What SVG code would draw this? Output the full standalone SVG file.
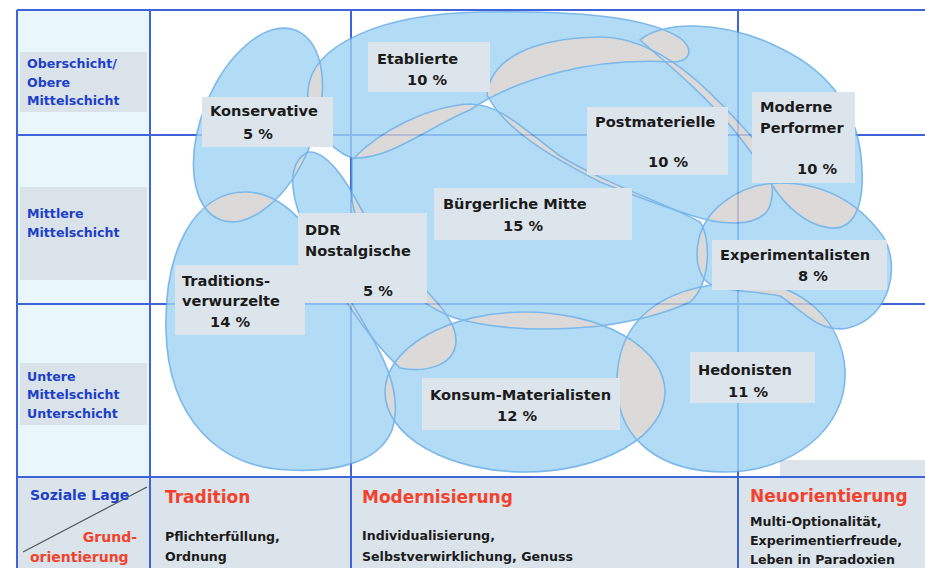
<svg xmlns="http://www.w3.org/2000/svg" width="925" height="568" viewBox="0 0 925 568">
<defs>
<style>
.lbl{font-family:"DejaVu Sans",sans-serif;font-weight:bold;font-size:14.6px;fill:#1b1b1b}
.side{font-family:"DejaVu Sans",sans-serif;font-weight:bold;font-size:12.6px;fill:#1d3fc9}
.desc{font-family:"DejaVu Sans",sans-serif;font-weight:bold;font-size:12.6px;fill:#1b1b1b}
.head{font-family:"DejaVu Sans",sans-serif;font-weight:bold;font-size:17px;fill:#f2422d}
.axis{font-family:"DejaVu Sans",sans-serif;font-weight:bold;font-size:14px}
.box{fill:#dde5ec}
.sbox{fill:#dbe3ea}
.grid{stroke:#3f63d8;stroke-width:2;fill:none}
.fill{fill:#a0d3f5}
.ov{fill:#d4d2d0}
.edge{fill:none;stroke:#5ca7e5;stroke-width:1.6}
</style>
<ellipse id="s-kons" cx="258" cy="125" rx="56" ry="102" transform="rotate(22 258 125)"/>
<path id="s-trad" d="M245,192 C290,192 320,240 350,300 C380,350 405,390 392,430 C378,465 330,472 290,470 C220,468 168,420 166,330 C164,250 195,192 245,192 Z"/>
<path id="s-ddr" d="M308,152 C330,150 352,190 372,230 C400,272 456,308 456,340 C456,366 425,373 400,368 C372,342 342,300 312,242 C292,205 283,165 308,152 Z"/>
<path id="s-etab" d="M352,158 C330,150 305,120 308,90 C312,45 380,14 480,12 C580,10 650,18 680,38 C695,50 690,62 672,62 C640,60 600,62 560,72 C520,82 490,96 470,110 C430,126 390,160 352,158 Z"/>
<path id="s-bur" d="M352,160 C380,130 430,106 470,104 C500,104 525,130 560,156 C610,186 670,205 700,222 C712,240 710,285 690,302 C660,316 630,322 600,326 C540,332 490,328 455,318 C410,302 360,250 352,200 Z"/>
<path id="s-post" d="M487,95 C490,60 530,38 600,37 C660,37 710,90 750,135 C770,158 778,190 768,210 C755,228 720,225 690,215 C650,202 620,190 600,182 C550,156 505,130 487,95 Z"/>
<path id="s-mp" d="M640,40 C660,22 720,18 780,48 C830,72 860,110 862,170 C864,210 852,230 830,228 C805,225 785,205 772,185 C760,165 750,150 738,135 C710,100 675,70 640,40 Z"/>
<path id="s-exp" d="M697,255 C697,210 740,183 780,183 C830,183 862,208 882,235 C902,265 890,318 848,328 C818,334 800,308 780,296 C750,290 715,292 705,280 C699,272 697,262 697,255 Z"/>
<ellipse id="s-kon" cx="525" cy="392" rx="140" ry="80"/>
<path id="s-hed" d="M617,390 C614,320 660,286 740,282 C800,280 842,320 845,370 C848,430 790,472 725,472 C660,472 620,440 617,390 Z"/>
<clipPath id="c-kons"><use href="#s-kons"/></clipPath>
<clipPath id="c-trad"><use href="#s-trad"/></clipPath>
<clipPath id="c-ddr"><use href="#s-ddr"/></clipPath>
<clipPath id="c-etab"><use href="#s-etab"/></clipPath>
<clipPath id="c-bur"><use href="#s-bur"/></clipPath>
<clipPath id="c-post"><use href="#s-post"/></clipPath>
<clipPath id="c-mp"><use href="#s-mp"/></clipPath>
<clipPath id="c-exp"><use href="#s-exp"/></clipPath>
<clipPath id="c-kon"><use href="#s-kon"/></clipPath>
<clipPath id="c-hed"><use href="#s-hed"/></clipPath>
</defs>

<rect width="925" height="568" fill="#ffffff"/>

<g id="backgrounds">
<rect x="17" y="10" width="133" height="466" fill="#e9f6fb"/>
<rect class="sbox" x="20" y="52" width="127" height="60"/>
<rect class="sbox" x="20" y="187" width="127" height="93"/>
<rect class="sbox" x="20" y="363" width="127" height="62"/>
<rect x="17" y="476" width="908" height="92" fill="#dce4eb"/>
<rect x="780" y="460" width="145" height="16" fill="#dde5ec"/>
</g>

<g id="grid">
<line class="grid" x1="17" y1="10" x2="925" y2="10"/>
<line class="grid" x1="17" y1="135" x2="925" y2="135"/>
<line class="grid" x1="17" y1="304" x2="925" y2="304"/>
<line class="grid" x1="17" y1="477" x2="925" y2="477" stroke-width="2.6"/>
<line class="grid" x1="17" y1="10" x2="17" y2="568"/>
<line class="grid" x1="150" y1="10" x2="150" y2="568"/>
<line class="grid" x1="351" y1="10" x2="351" y2="568" stroke-width="1.6"/>
<line class="grid" x1="738" y1="10" x2="738" y2="568" stroke-width="1.6"/>
</g>

<g id="milieus" opacity="0.8">
<g id="fills" class="fill">
<use href="#s-kons"/><use href="#s-trad"/><use href="#s-ddr"/><use href="#s-etab"/><use href="#s-bur"/>
<use href="#s-post"/><use href="#s-mp"/><use href="#s-exp"/><use href="#s-kon"/><use href="#s-hed"/>
</g>
<g id="overlaps" class="ov">
<use href="#s-kons" clip-path="url(#c-trad)"/>
<use href="#s-kons" clip-path="url(#c-etab)"/>
<use href="#s-kons" clip-path="url(#c-ddr)"/>
<use href="#s-etab" clip-path="url(#c-post)"/>
<use href="#s-etab" clip-path="url(#c-bur)"/>
<use href="#s-etab" clip-path="url(#c-mp)"/>
<use href="#s-etab" clip-path="url(#c-ddr)"/>
<use href="#s-post" clip-path="url(#c-mp)"/>
<use href="#s-post" clip-path="url(#c-bur)"/>
<use href="#s-post" clip-path="url(#c-exp)"/>
<use href="#s-mp" clip-path="url(#c-exp)"/>
<use href="#s-bur" clip-path="url(#c-exp)"/>
<use href="#s-bur" clip-path="url(#c-kon)"/>
<use href="#s-bur" clip-path="url(#c-hed)"/>
<use href="#s-bur" clip-path="url(#c-ddr)"/>
<use href="#s-ddr" clip-path="url(#c-trad)"/>
<use href="#s-ddr" clip-path="url(#c-kon)"/>
<use href="#s-trad" clip-path="url(#c-kon)"/>
<use href="#s-kon" clip-path="url(#c-hed)"/>
<use href="#s-hed" clip-path="url(#c-exp)"/>
</g>
<g id="outlines" class="edge">
<use href="#s-kons"/><use href="#s-trad"/><use href="#s-ddr"/><use href="#s-etab"/><use href="#s-bur"/>
<use href="#s-post"/><use href="#s-mp"/><use href="#s-exp"/><use href="#s-kon"/><use href="#s-hed"/>
</g>
</g>

<g id="node-etablierte">
<rect class="box" x="368" y="42" width="122" height="50"/>
<text class="lbl" x="377" y="64">Etablierte</text>
<text class="lbl" x="407" y="85">10 %</text>
</g>
<g id="node-konservative">
<rect class="box" x="202" y="97" width="131" height="50"/>
<text class="lbl" x="210" y="116">Konservative</text>
<text class="lbl" x="243" y="139">5 %</text>
</g>
<g id="node-postmaterielle">
<rect class="box" x="587" y="107" width="141" height="68"/>
<text class="lbl" x="595" y="127">Postmaterielle</text>
<text class="lbl" x="648" y="167">10 %</text>
</g>
<g id="node-moderne-performer">
<rect class="box" x="752" y="92" width="103" height="91"/>
<text class="lbl" x="760" y="112">Moderne</text>
<text class="lbl" x="760" y="133">Performer</text>
<text class="lbl" x="797" y="174">10 %</text>
</g>
<g id="node-buergerliche-mitte">
<rect class="box" x="434" y="188" width="198" height="52"/>
<text class="lbl" x="443" y="209">Bürgerliche Mitte</text>
<text class="lbl" x="503" y="231">15 %</text>
</g>
<g id="node-ddr-nostalgische">
<rect class="box" x="298" y="213" width="129" height="90"/>
<text class="lbl" x="305" y="235">DDR</text>
<text class="lbl" x="305" y="256">Nostalgische</text>
<text class="lbl" x="363" y="296">5 %</text>
</g>
<g id="node-traditionsverwurzelte">
<rect class="box" x="175" y="265" width="130" height="70"/>
<text class="lbl" x="182" y="286">Traditions-</text>
<text class="lbl" x="182" y="306">verwurzelte</text>
<text class="lbl" x="210" y="327">14 %</text>
</g>
<g id="node-experimentalisten">
<rect class="box" x="712" y="240" width="175" height="50"/>
<text class="lbl" x="720" y="260">Experimentalisten</text>
<text class="lbl" x="798" y="281">8 %</text>
</g>
<g id="node-konsum-materialisten">
<rect class="box" x="422" y="378" width="198" height="52"/>
<text class="lbl" x="430" y="400">Konsum-Materialisten</text>
<text class="lbl" x="497" y="421">12 %</text>
</g>
<g id="node-hedonisten">
<rect class="box" x="690" y="352" width="125" height="51"/>
<text class="lbl" x="698" y="375">Hedonisten</text>
<text class="lbl" x="728" y="397">11 %</text>
</g>

<g id="row-labels">
<text class="side" x="27" y="68">Oberschicht/</text>
<text class="side" x="27" y="87">Obere</text>
<text class="side" x="27" y="105">Mittelschicht</text>
<text class="side" x="27" y="218">Mittlere</text>
<text class="side" x="27" y="237">Mittelschicht</text>
<text class="side" x="27" y="381">Untere</text>
<text class="side" x="27" y="399">Mittelschicht</text>
<text class="side" x="27" y="418">Unterschicht</text>
</g>

<g id="axis-corner">
<line x1="23" y1="552" x2="147" y2="487" stroke="#555555" stroke-width="1.2"/>
<text class="axis" x="30" y="500" fill="#1d3fc9">Soziale Lage</text>
<text class="axis" x="137" y="542" fill="#f2422d" text-anchor="end">Grund-</text>
<text class="axis" x="30" y="562" fill="#f2422d">orientierung</text>
</g>

<g id="col-tradition">
<text class="head" x="165" y="503">Tradition</text>
<text class="desc" x="165" y="541">Pflichterfüllung,</text>
<text class="desc" x="165" y="561">Ordnung</text>
</g>
<g id="col-modernisierung">
<text class="head" x="362" y="503">Modernisierung</text>
<text class="desc" x="362" y="540">Individualisierung,</text>
<text class="desc" x="362" y="561">Selbstverwirklichung, Genuss</text>
</g>
<g id="col-neuorientierung">
<text class="head" x="750" y="502">Neuorientierung</text>
<text class="desc" x="750" y="526">Multi-Optionalität,</text>
<text class="desc" x="750" y="545">Experimentierfreude,</text>
<text class="desc" x="750" y="564">Leben in Paradoxien</text>
</g>
</svg>
